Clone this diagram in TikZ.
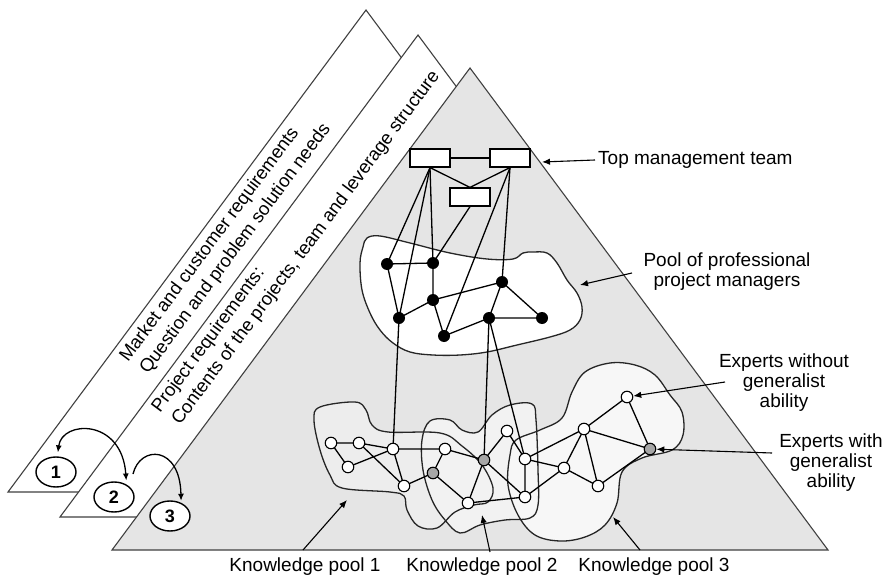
\documentclass[tikz,border=0pt]{standalone}
\usepackage{fontspec}
\setmainfont{Liberation Sans}
\usetikzlibrary{arrows.meta,shapes.geometric}
\begin{document}
\begin{tikzpicture}[x=1pt,y=-1pt,
  tri/.style={draw=black!75, line width=1.1pt, line join=miter},
  link/.style={draw=black, line width=1.3pt},
  blob/.style={draw=black!85, line width=1.3pt},
  mgr/.style={circle, fill=black, inner sep=0pt, minimum size=12pt},
  expert/.style={circle, draw=black, line width=1.1pt, fill=white, inner sep=0pt, minimum size=11.5pt},
  generalist/.style={expert, fill=black!35},
  topbox/.style={draw=black, line width=1.2pt, fill=white, minimum width=40pt, minimum height=18pt, inner sep=0pt},
  callout/.style={draw=black, line width=1.1pt, -{Latex[length=8pt,width=6.5pt]}},
  txt/.style={font=\fontsize{19}{20}\selectfont, align=center, inner sep=0pt},
  strip/.style={font=\fontsize{18.5}{20}\selectfont, rotate=53.4, anchor=base west, inner sep=0pt},
  step num/.style={ellipse, draw=black, line width=1.4pt, fill=white, minimum width=40pt, minimum height=30pt, inner sep=0pt, font=\bfseries\fontsize{18}{18}\selectfont},
  twoway/.style={line width=1.3pt, {Latex[length=7pt,width=6pt]}-{Latex[length=7pt,width=6pt]}, shorten <=4pt, shorten >=4pt},
  oneway/.style={line width=1.3pt, -{Latex[length=7pt,width=6pt]}, shorten >=2pt}
]
\useasboundingbox (0,0) rectangle (889,578);

% three stacked triangles
\filldraw[tri, fill=white] (366,10) -- (724,492) -- (8,492) -- cycle;
\filldraw[tri, fill=white] (418,35) -- (776,517) -- (60,517) -- cycle;
\filldraw[tri, fill=black!10] (470,68) -- (828,550) -- (112,550) -- cycle;

% texts along the left edges
\node[strip] at (128,363) {Market and customer requirements};
\node[strip] at (148,375) {Question and problem solution needs};
\node[strip] at (160,414) {Project requirements:};
\node[strip] at (180,426) {Contents of the projects, team and leverage structure};

% pool areas: fills first
\fill[white] plot[smooth cycle, tension=0.6] coordinates {(367,238) (380,236) (410,243) (450,253) (487,259) (513,259) (523,253) (533,252) (547,253) (557,263) (567,280) (577,293) (582,307) (580,320) (570,330) (550,337) (517,345) (487,352) (460,355) (433,355) (410,352) (393,343) (380,330) (370,313) (362,290) (360,263) (363,247)};
\fill[black!7] plot[smooth cycle, tension=0.6] coordinates {(314,420) (320,407) (355,402) (366,410) (372,425) (388,432) (440,433) (462,446) (482,465) (493,488) (488,502) (474,505) (455,512) (437,528) (418,526) (407,510) (404,496) (390,492) (342,488) (330,475) (320,450)};
\fill[black!5] plot[smooth cycle, tension=0.6] coordinates {(422,440) (430,421) (450,420) (462,430) (478,432) (492,415) (510,405) (532,404) (536,420) (538,470) (538,505) (530,518) (505,520) (480,525) (460,533) (445,520) (432,500) (423,470)};
\fill[black!3] plot[smooth cycle, tension=0.6] coordinates {(510,455) (516,440) (540,430) (562,418) (572,392) (585,372) (610,363) (635,365) (655,375) (670,395) (682,412) (683,435) (672,450) (642,458) (622,472) (617,503) (605,525) (585,537) (560,541) (535,535) (518,515) (508,485)};

% pool outlines
\draw[blob] plot[smooth cycle, tension=0.6] coordinates {(367,238) (380,236) (410,243) (450,253) (487,259) (513,259) (523,253) (533,252) (547,253) (557,263) (567,280) (577,293) (582,307) (580,320) (570,330) (550,337) (517,345) (487,352) (460,355) (433,355) (410,352) (393,343) (380,330) (370,313) (362,290) (360,263) (363,247)};
\draw[blob] plot[smooth cycle, tension=0.6] coordinates {(314,420) (320,407) (355,402) (366,410) (372,425) (388,432) (440,433) (462,446) (482,465) (493,488) (488,502) (474,505) (455,512) (437,528) (418,526) (407,510) (404,496) (390,492) (342,488) (330,475) (320,450)};
\draw[blob] plot[smooth cycle, tension=0.6] coordinates {(422,440) (430,421) (450,420) (462,430) (478,432) (492,415) (510,405) (532,404) (536,420) (538,470) (538,505) (530,518) (505,520) (480,525) (460,533) (445,520) (432,500) (423,470)};
\draw[blob] plot[smooth cycle, tension=0.6] coordinates {(510,455) (516,440) (540,430) (562,418) (572,392) (585,372) (610,363) (635,365) (655,375) (670,395) (682,412) (683,435) (672,450) (642,458) (622,472) (617,503) (605,525) (585,537) (560,541) (535,535) (518,515) (508,485)};

% top management team
\node[topbox] (tA) at (430,158) {};
\node[topbox] (tB) at (510,158) {};
\node[topbox] (tC) at (470,197) {};

% project managers
\coordinate (p1) at (387,264);
\coordinate (p2) at (433,263);
\coordinate (p3) at (502,282);
\coordinate (p4) at (433,300);
\coordinate (p5) at (399,318);
\coordinate (p6) at (444,336);
\coordinate (p7) at (489,318);
\coordinate (p8) at (542,318);

% experts
\coordinate (k1) at (331,443);
\coordinate (k2) at (359,443);
\coordinate (k3) at (393,449);
\coordinate (k4) at (348,467);
\coordinate (k5) at (404,486);
\coordinate (g1) at (433,473);
\coordinate (k6) at (445,449);
\coordinate (g2) at (484,460);
\coordinate (k7) at (468,503);
\coordinate (k8) at (507,431);
\coordinate (k9) at (525,459);
\coordinate (k10) at (525,497);
\coordinate (k11) at (564,468);
\coordinate (k12) at (584,429);
\coordinate (k13) at (598,486);
\coordinate (k14) at (627,397);
\coordinate (g3) at (650,449);

% links
\draw[link] (tA) -- (tB);
\draw[link] (tA.south) -- (tC.north);
\draw[link] (tB.south) -- (tC.north);
\draw[link] (tA.south) -- (p1);
\draw[link] (tA.south) -- (p5);
\draw[link] (tA.south) -- (p2);
\draw[link] (tC.south) -- (p2);
\draw[link] (tB.south) -- (p6);
\draw[link] (tB.south) -- (p3);
\draw[link] (p1) -- (p2) (p1) -- (p5) (p2) -- (p4) (p4) -- (p5) (p4) -- (p6)
  (p4) -- (p3) (p6) -- (p7) (p7) -- (p8) (p3) -- (p8) (p3) -- (p7);
\draw[link] (p5) -- (k3) (p7) -- (g2) (p7) -- (k9);
\draw[link] (k1) -- (k2) (k1) -- (k4) (k4) -- (k3) (k2) -- (k3) (k2) -- (k5)
  (k3) -- (k6) (k3) -- (k5) (k5) -- (g1) (g1) -- (k6) (g1) -- (k7)
  (k6) -- (g2) (g2) -- (k8) (g2) -- (k7) (g2) -- (k10) (k7) -- (k10)
  (k8) -- (k9) (k9) -- (k10) (k9) -- (k11) (k9) -- (k12) (k10) -- (k11)
  (k11) -- (k12) (k11) -- (k13) (k12) -- (k13) (k12) -- (k14) (k12) -- (g3)
  (k14) -- (g3) (k13) -- (g3);

% node discs over the links
\foreach \p in {p1,p2,p3,p4,p5,p6,p7,p8} \node[mgr] (\p n) at (\p) {};
\foreach \k in {k1,k2,k3,k4,k5,k6,k7,k8,k9,k10,k11,k12,k13,k14} \node[expert] (\k n) at (\k) {};
\foreach \g in {g1,g2,g3} \node[generalist] (\g n) at (\g) {};

% labels and callouts
\node[txt, anchor=west] (tmt) at (598,160) {Top management team};
\coordinate (tmtip) at (542,162);
\draw[callout] ([xshift=-3pt]tmt.west) -- (tmtip);

\node[txt] (pmt) at (727,272) {Pool of professional\\project managers};
\coordinate (pmA) at (632,273);
\coordinate (pmtip) at (580,285);
\draw[callout] (pmA) -- (pmtip);

\node[txt] (ewo) at (784,383) {Experts without\\generalist\\ability};
\coordinate (ewoA) at (725,382);
\draw[callout] (ewoA) -- (k14n);

\node[txt] (ewi) at (831,463) {Experts with\\generalist\\ability};
\coordinate (ewiA) at (772,453);
\draw[callout] (ewiA) -- (g3n);

\node[txt] (kp1) at (305,567) {Knowledge pool 1};
\node[txt] (kp2) at (482,567) {Knowledge pool 2};
\node[txt] (kp3) at (654,567) {Knowledge pool 3};
\coordinate (kp1A) at (303,550);
\coordinate (kp1tip) at (347,500);
\coordinate (kp2A) at (490,552);
\coordinate (kp2tip) at (482,515);
\coordinate (kp3A) at (640,550);
\coordinate (kp3tip) at (613,517);
\draw[callout] (kp1A) -- (kp1tip);
\draw[callout] (kp2A) -- (kp2tip);
\draw[callout] (kp3A) -- (kp3tip);

% numbered steps
\node[step num] (n1) at (56,472) {1};
\node[step num] (n2) at (114,497) {2};
\node[step num] (n3) at (170,516) {3};
\coordinate (b0) at (133,474);
\draw[twoway] (n1.85) .. controls (62,420) and (122,418) .. (n2.45);
\draw[oneway] (b0) .. controls (140,445) and (180,445) .. (n3.50);
\end{tikzpicture}
\end{document}
